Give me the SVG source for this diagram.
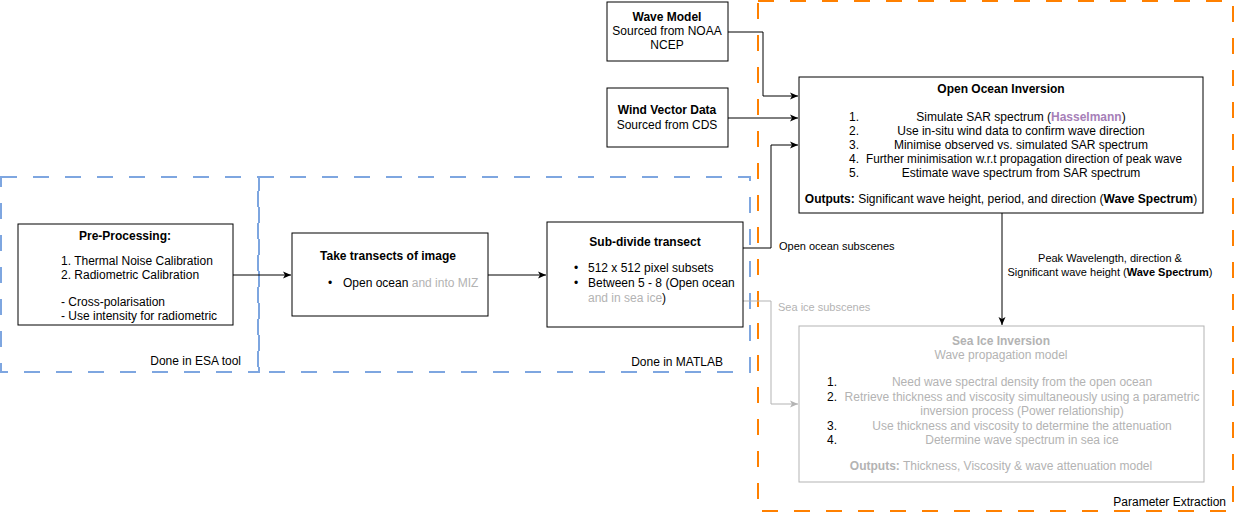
<svg xmlns="http://www.w3.org/2000/svg" width="1236" height="513" viewBox="0 0 1236 513">
<style>
text{font-family:"Liberation Sans",Arial,sans-serif;font-size:12px;fill:#000}
.c{text-anchor:middle}
.e{text-anchor:end}
.b{font-weight:bold}
.g{fill:#B3B3B3}
.s{font-size:11px}
.box{fill:#fff;stroke:#000;stroke-width:1}
.gbox{fill:#fff;stroke:#B3B3B3;stroke-width:1}
.blue{fill:none;stroke:#7EA6E0;stroke-width:2;stroke-dasharray:16 16}
.orange{fill:none;stroke:#FF8000;stroke-width:2;stroke-dasharray:16 16}
.ln{fill:none;stroke:#000;stroke-width:1}
.gln{fill:none;stroke:#B3B3B3;stroke-width:1}
</style>
<defs>
<marker id="ah" markerWidth="10" markerHeight="10" refX="9" refY="5" orient="auto" markerUnits="userSpaceOnUse"><path d="M1,1.5 L9,5 L1,8.5 L3,5 Z" fill="#000"/></marker>
<marker id="ahg" markerWidth="10" markerHeight="10" refX="9" refY="5" orient="auto" markerUnits="userSpaceOnUse"><path d="M1,1.5 L9,5 L1,8.5 L3,5 Z" fill="#B3B3B3"/></marker>
</defs>
<rect width="1236" height="513" fill="#fff"/>
<g id="groups">
<rect class="blue" x="1" y="177" width="258" height="195"/>
<rect class="blue" x="258" y="177" width="492" height="195"/>
<rect class="orange" x="758" y="1" width="475" height="510"/>
<text class="e" x="241" y="365">Done in ESA tool</text>
<text class="e" x="723" y="366">Done in MATLAB</text>
<text class="e" x="1226" y="506">Parameter Extraction</text>
</g>
<g id="connectors">
<path class="ln" d="M233,275 H291" marker-end="url(#ah)"/>
<path class="ln" d="M488,275 H546" marker-end="url(#ah)"/>
<path class="ln" d="M728,32 H763 V96 H798" marker-end="url(#ah)"/>
<path class="ln" d="M728,118 H798" marker-end="url(#ah)"/>
<path class="ln" d="M743,248 H771 V145 H798" marker-end="url(#ah)"/>
<path class="gln" d="M743,301 H771 V404 H798" marker-end="url(#ahg)"/>
<path class="ln" d="M1002,213 V325" marker-end="url(#ah)"/>
<text class="s" x="779" y="250">Open ocean subscenes</text>
<text class="s g" x="778" y="311">Sea ice subscenes</text>
<text class="s c" x="1110" y="262">Peak Wavelength, direction &amp;</text>
<text class="s c" x="1110" y="276">Significant wave height (<tspan class="b">Wave Spectrum</tspan>)</text>
</g>
<g id="preprocessing">
<rect class="box" x="18" y="224" width="215" height="101"/>
<text class="b c" x="125" y="240">Pre-Processing:</text>
<text x="61" y="265">1. Thermal Noise Calibration</text>
<text x="61" y="279">2. Radiometric Calibration</text>
<text x="61" y="306">- Cross-polarisation</text>
<text x="61" y="320">- Use intensity for radiometric</text>
</g>
<g id="transects">
<rect class="box" x="292" y="233" width="196" height="83"/>
<text class="b c" x="388" y="260">Take transects of image</text>
<text x="328" y="287">•</text>
<text x="343" y="287">Open ocean <tspan class="g">and into MIZ</tspan></text>
</g>
<g id="subdivide">
<rect class="box" x="547" y="222" width="196" height="105"/>
<text class="b c" x="645" y="246">Sub-divide transect</text>
<text x="574" y="272">•</text>
<text x="588" y="272">512 x 512 pixel subsets</text>
<text x="574" y="287">•</text>
<text x="588" y="287">Between 5 - 8 (Open ocean</text>
<text x="588" y="302"><tspan class="g">and in sea ice</tspan>)</text>
</g>
<g id="wavemodel">
<rect class="box" x="607" y="2" width="121" height="59"/>
<text class="b c" x="667" y="21">Wave Model</text>
<text class="c" x="667" y="35">Sourced from NOAA</text>
<text class="c" x="667" y="49">NCEP</text>
</g>
<g id="wind">
<rect class="box" x="607" y="88" width="121" height="59"/>
<text class="b c" x="667" y="114">Wind Vector Data</text>
<text class="c" x="667" y="129">Sourced from CDS</text>
</g>
<g id="openocean">
<rect class="box" x="799" y="77" width="404" height="136"/>
<text class="b c" x="1001" y="93">Open Ocean Inversion</text>
<text x="849" y="121">1.</text>
<text x="849" y="135">2.</text>
<text x="849" y="149">3.</text>
<text x="849" y="163">4.</text>
<text x="849" y="177">5.</text>
<text class="c" x="1021" y="121">Simulate SAR spectrum (<tspan class="b" fill="#A680B8">Hasselmann</tspan>)</text>
<text class="c" x="1021" y="135">Use in-situ wind data to confirm wave direction</text>
<text class="c" x="1021" y="149">Minimise observed vs. simulated SAR spectrum</text>
<text class="c" x="1024" y="163" textLength="316" lengthAdjust="spacingAndGlyphs">Further minimisation w.r.t propagation direction of peak wave</text>
<text class="c" x="1021" y="177">Estimate wave spectrum from SAR spectrum</text>
<text class="c" x="1001" y="203"><tspan class="b">Outputs:</tspan> Significant wave height, period, and direction (<tspan class="b">Wave Spectrum</tspan>)</text>
</g>
<g id="seaice">
<rect class="gbox" x="799" y="326" width="405" height="156"/>
<text class="b c g" x="1001" y="345">Sea Ice Inversion</text>
<text class="c g" x="1001" y="359">Wave propagation model</text>
<text x="827" y="386">1.</text>
<text x="827" y="401">2.</text>
<text x="827" y="430">3.</text>
<text x="827" y="444">4.</text>
<text class="c g" x="1022" y="386">Need wave spectral density from the open ocean</text>
<text class="c g" x="1022" y="401">Retrieve thickness and viscosity simultaneously using a parametric</text>
<text class="c g" x="1022" y="415">inversion process (Power relationship)</text>
<text class="c g" x="1022" y="430">Use thickness and viscosity to determine the attenuation</text>
<text class="c g" x="1022" y="444">Determine wave spectrum in sea ice</text>
<text class="c g" x="1001" y="470"><tspan class="b">Outputs:</tspan> Thickness, Viscosity &amp; wave attenuation model</text>
</g>
</svg>
